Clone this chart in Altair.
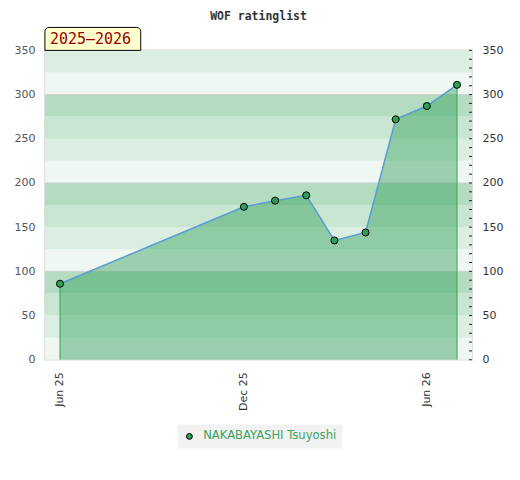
import altair as alt
import pandas as pd

# ---- data ----
dates = ["2025-06-01", "2025-12-01", "2026-01-01", "2026-02-01", "2026-03-01",
         "2026-04-01", "2026-05-01", "2026-06-01", "2026-07-01"]
ratings = [86, 173, 180, 186, 135, 144, 272, 287, 311]
player = "NAKABAYASHI Tsuyoshi"
chart_title = "WOF ratinglist"
season_label = "2025–2026"

band_lo = [0, 25, 50, 75, 100, 125, 150, 175, 200, 225, 250, 275, 300, 325]
band_colors = ["#eef7f1", "#dbeee2", "#c8e6d2", "#b3dcc0"]
grid_values = [100, 200, 300]
y_labels = [0, 50, 100, 150, 200, 250, 300, 350]
minor_ticks = list(range(0, 351, 10))

W, H = 428, 310

df = pd.DataFrame({"date": dates, "rating": ratings, "player": [player] * len(dates)})
ends = df.iloc[[0, -1]]
bands = pd.DataFrame({
    "lo": band_lo,
    "hi": [b + 25 for b in band_lo],
    "col": [band_colors[(b // 25) % 4] for b in band_lo],
})
grid_df = pd.DataFrame({"v": grid_values})
tick_df = pd.DataFrame({"v": minor_ticks})
label_df = pd.DataFrame({"t": [season_label]})

yscale = alt.Scale(domain=[0, 350], nice=False, zero=True)
xscale = alt.Scale(domain=[alt.DateTime(year=2025, month=5, date=17),
                           alt.DateTime(year=2026, month=7, date=16)], nice=False)
x_axis = alt.Axis(
    values=[alt.DateTime(year=2025, month=6, date=1),
            alt.DateTime(year=2025, month=12, date=1),
            alt.DateTime(year=2026, month=6, date=1)],
    format="%b %y", labelAngle=-90, ticks=False, domain=False, grid=False,
    labelPadding=12, labelFont="DejaVu Sans", labelFontSize=11, labelColor="#333333",
    title=None,
)
x_enc = alt.X("date:T", scale=xscale, axis=x_axis)

left_axis = alt.Axis(orient="left", values=y_labels, ticks=False, domain=False, grid=False,
                     labelPadding=10, labelFont="DejaVu Sans", labelFontSize=11,
                     labelColor="#555555", title=None)
right_axis = alt.Axis(orient="right", values=y_labels, ticks=False, domain=False, grid=False,
                      labelPadding=10, labelFont="DejaVu Sans", labelFontSize=11,
                      labelColor="#333333", title=None)

band_layer = alt.Chart(bands).mark_rect().encode(
    x=alt.value(0), x2=alt.value(W),
    y=alt.Y("lo:Q", scale=yscale, axis=left_axis), y2="hi:Q",
    fill=alt.Fill("col:N", scale=None),
)

grid_layer = alt.Chart(grid_df).mark_rule(color="#cfcfcf", strokeWidth=1).encode(
    x=alt.value(0), x2=alt.value(W),
    y=alt.Y("v:Q", scale=yscale, axis=right_axis),
)

tick_layer = alt.Chart(tick_df).mark_rule(color="#222222", strokeWidth=1).encode(
    x=alt.value(W - 3), x2=alt.value(W),
    y=alt.Y("v:Q", scale=yscale, axis=None),
)

area_layer = alt.Chart(df).mark_area(color="#32a05a", opacity=0.45).encode(
    x=x_enc, y=alt.Y("rating:Q", scale=yscale, axis=None),
)

drop_layer = alt.Chart(ends).mark_rule(color="#38a35c", strokeWidth=1).encode(
    x=x_enc, y=alt.Y("rating:Q", scale=yscale, axis=None), y2=alt.datum(0),
)

line_layer = alt.Chart(df).mark_line(color="#5b9bd5", strokeWidth=1.5).encode(
    x=x_enc, y=alt.Y("rating:Q", scale=yscale, axis=None),
)

point_layer = alt.Chart(df).mark_point(filled=True, size=50, stroke="#000000",
                                       strokeWidth=1, opacity=1).encode(
    x=x_enc, y=alt.Y("rating:Q", scale=yscale, axis=None),
    color=alt.Color("player:N", scale=alt.Scale(range=["#2e9e5a"]),
                    legend=alt.Legend(
                        orient="none", legendX=133, legendY=375, title=None,
                        fillColor="#f2f2f2", padding=6, symbolType="circle",
                        symbolSize=34, symbolStrokeColor="#000000", symbolStrokeWidth=1,
                        labelColor="#3aa35f", labelFont="DejaVu Sans", labelFontSize=11.6,
                        labelOffset=8,
                    )),
)

box_layer = alt.Chart(label_df).mark_rect(
    fill="#ffffcc", stroke="#000000", strokeWidth=1,
    cornerRadiusTopLeft=4, cornerRadiusTopRight=4,
).encode(x=alt.value(0), x2=alt.value(96), y=alt.value(-23), y2=alt.value(0))

text_layer = alt.Chart(label_df).mark_text(
    font="DejaVu Sans Mono", fontSize=15, color="#990000", align="left", baseline="middle",
).encode(x=alt.value(5), y=alt.value(-11), text="t:N")

chart = alt.layer(
    band_layer, grid_layer, tick_layer, area_layer, drop_layer, line_layer, point_layer,
    box_layer, text_layer,
).resolve_axis(y="independent").properties(
    width=W, height=H,
    title=alt.Title(chart_title, font="DejaVu Sans Mono", fontSize=11.5, fontWeight="bold",
                    color="#333333", anchor="middle", offset=4),
    autosize=alt.AutoSizeParams(type="none"),
    padding={"left": 37, "top": 42, "right": 40, "bottom": 100},
).configure_view(stroke="#d9d9d9", strokeWidth=1.5)

chart.save("out.html", embed_options={"renderer": "svg", "actions": False})
